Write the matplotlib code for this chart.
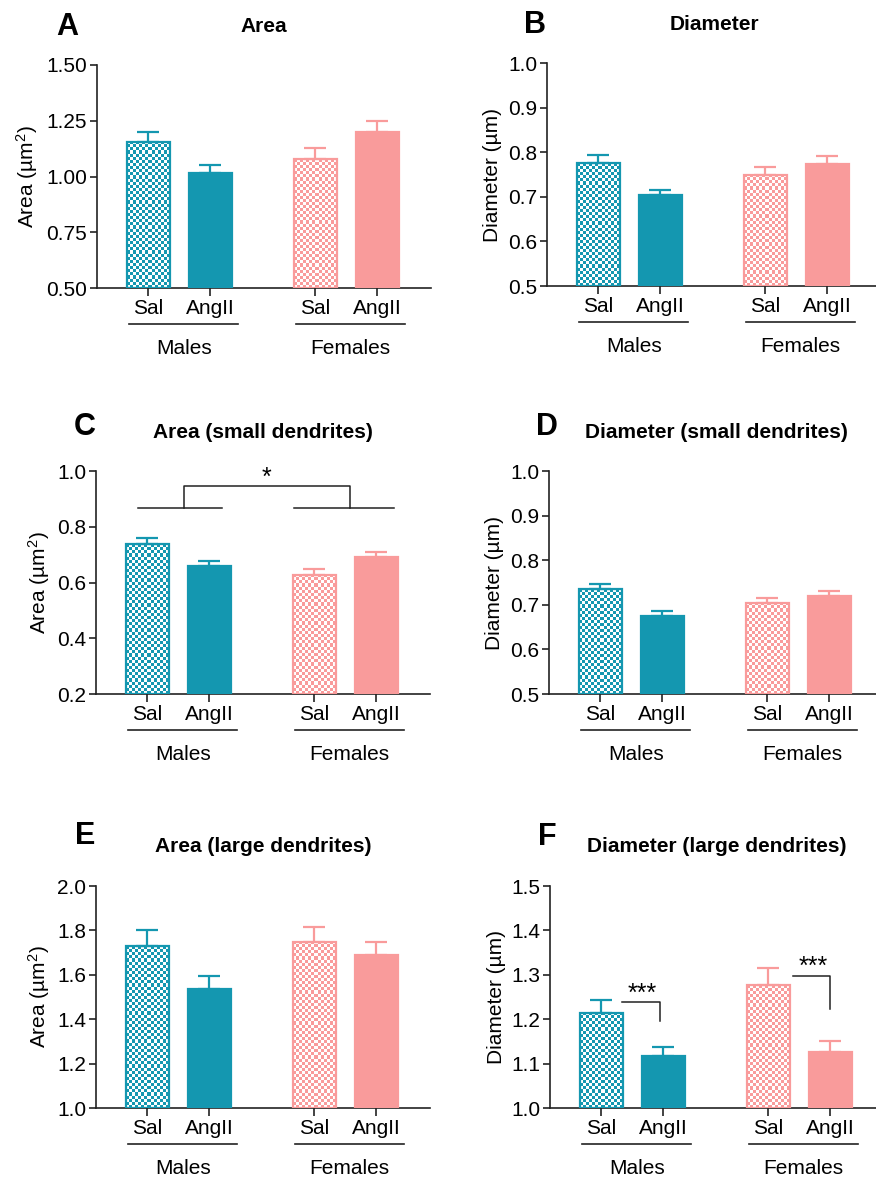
import numpy as np
import matplotlib
matplotlib.use('Agg')
import matplotlib.pyplot as plt
from matplotlib.colors import ListedColormap
from matplotlib.transforms import blended_transform_factory

plt.rcParams['font.family'] = ['Liberation Sans', 'DejaVu Sans']
plt.rcParams['mathtext.fontset'] = 'custom'
plt.rcParams['mathtext.rm'] = 'Liberation Sans'
plt.rcParams['mathtext.it'] = 'Liberation Sans'
plt.rcParams['mathtext.bf'] = 'Liberation Sans:bold'

# ---------------- data ----------------
categories = ['Sal', 'AngII', 'Sal', 'AngII']
groups = ['Males', 'Females']
letters = ['A', 'B', 'C', 'D', 'E', 'F']
titles = ['Area', 'Diameter', 'Area (small dendrites)', 'Diameter (small dendrites)',
          'Area (large dendrites)', 'Diameter (large dendrites)']
ylabels = ['Area (µm$^{2}$)', 'Diameter (µm)', 'Area (µm$^{2}$)', 'Diameter (µm)',
           'Area (µm$^{2}$)', 'Diameter (µm)']

area_mean = [1.156, 1.014, 1.077, 1.201]
area_sem = [0.045, 0.038, 0.049, 0.049]
diam_mean = [0.775, 0.704, 0.749, 0.774]
diam_sem = [0.018, 0.012, 0.017, 0.017]
area_small_mean = [0.737, 0.659, 0.627, 0.692]
area_small_sem = [0.022, 0.019, 0.020, 0.019]
diam_small_mean = [0.735, 0.675, 0.705, 0.720]
diam_small_sem = [0.012, 0.011, 0.010, 0.012]
area_large_mean = [1.728, 1.538, 1.748, 1.688]
area_large_sem = [0.075, 0.055, 0.067, 0.058]
diam_large_mean = [1.214, 1.116, 1.276, 1.127]
diam_large_sem = [0.029, 0.021, 0.040, 0.024]

yticks_A = [0.50, 0.75, 1.00, 1.25, 1.50]
yticks_B = [0.5, 0.6, 0.7, 0.8, 0.9, 1.0]
yticks_C = [0.2, 0.4, 0.6, 0.8, 1.0]
yticks_D = [0.5, 0.6, 0.7, 0.8, 0.9, 1.0]
yticks_E = [1.0, 1.2, 1.4, 1.6, 1.8, 2.0]
yticks_F = [1.0, 1.1, 1.2, 1.3, 1.4, 1.5]
ytick_fmt = ['%.2f', '%.1f', '%.1f', '%.1f', '%.1f', '%.1f']

means = [area_mean, diam_mean, area_small_mean, diam_small_mean, area_large_mean, diam_large_mean]
sems = [area_sem, diam_sem, area_small_sem, diam_small_sem, area_large_sem, diam_large_sem]
yticks = [yticks_A, yticks_B, yticks_C, yticks_D, yticks_E, yticks_F]

# significance annotations
sig_C_label = '*'
sig_F_labels = ['***', '***']

# ---------------- style ----------------
TEAL = '#1497b0'
PINK = '#f99b9b'
bar_colors = [TEAL, TEAL, PINK, PINK]
checkered = [True, False, True, False]

W, H = 876, 1180
fig = plt.figure(figsize=(W / 100, H / 100), dpi=100)

# axes placement in pixels: left, top, bottom
layout = [(97, 65, 288), (547, 63, 286), (96, 471, 694),
          (549, 471, 694), (96, 886, 1108), (550, 886, 1108)]
AX_W = 334
xpos = np.array([0.0, 1.0, 2.69, 3.69])
PX_PER_UNIT = 62.0
XLEFT = -0.83
BAR_W = 0.69
FS = 15


def fx(px):
    return px / W


def fy(py):
    return 1 - py / H


def checker(ax, patch, color, cell_px=3.1):
    x0, y0 = patch.get_x(), patch.get_y()
    w, h = patch.get_width(), patch.get_height()
    p0 = ax.transData.transform((x0, y0))
    p1 = ax.transData.transform((x0 + w, y0 + h))
    ncol = max(1, int(round(abs(p1[0] - p0[0]) / cell_px)))
    nrow = max(1, int(round(abs(p1[1] - p0[1]) / cell_px)))
    arr = np.add.outer(np.arange(nrow), np.arange(ncol)) % 2
    im = ax.imshow(arr, extent=[x0, x0 + w, y0, y0 + h], origin='lower',
                   cmap=ListedColormap(['white', color]), vmin=0, vmax=1,
                   interpolation='nearest', aspect='auto', zorder=2)
    im.set_clip_path(patch)


axes = []
for i in range(6):
    left, top, bottom = layout[i]
    ax = fig.add_axes([fx(left), fy(bottom), AX_W / W, (bottom - top) / H])
    axes.append(ax)
    yt = yticks[i]
    ymin, ymax = yt[0], yt[-1]
    ax.set_xlim(XLEFT, XLEFT + AX_W / PX_PER_UNIT)
    ax.set_ylim(ymin, ymax)

    for spine in ['top', 'right']:
        ax.spines[spine].set_visible(False)
    for spine in ['left', 'bottom']:
        ax.spines[spine].set_linewidth(1.2)
        ax.spines[spine].set_color('#222222')

    m = np.array(means[i])
    s = np.array(sems[i])
    for j in range(4):
        col = bar_colors[j]
        if checkered[j]:
            bars = ax.bar(xpos[j], m[j] - ymin, bottom=ymin, width=BAR_W,
                          facecolor='none', edgecolor=col, linewidth=1.6, zorder=3)
            checker(ax, bars[0], col)
        else:
            ax.bar(xpos[j], m[j] - ymin, bottom=ymin, width=BAR_W,
                   facecolor=col, edgecolor=col, linewidth=1.6, zorder=3)
        ax.errorbar(xpos[j], m[j], yerr=[[0], [s[j]]], fmt='none', ecolor=col,
                    elinewidth=1.6, capsize=8, capthick=1.6, zorder=2.5)

    ax.set_ylim(ymin, ymax)
    ax.set_xlim(XLEFT, XLEFT + AX_W / PX_PER_UNIT)
    ax.set_yticks(yt)
    ax.set_yticklabels([ytick_fmt[i] % v for v in yt])
    ax.set_xticks(xpos)
    ax.set_xticklabels(categories)
    ax.tick_params(axis='both', labelsize=FS, width=1.2, length=5, color='#222222')
    ax.tick_params(axis='y', pad=2)
    ax.tick_params(axis='x', pad=2, length=6)

    # group underline + labels
    trans = blended_transform_factory(ax.transData, ax.transAxes)
    ah = bottom - top
    for g, (a, b) in enumerate([(xpos[0], xpos[1]), (xpos[2], xpos[3])]):
        c = (a + b) / 2 + 0.07
        ax.plot([c - 0.88, c + 0.88], [-36 / ah, -36 / ah], transform=trans,
                color='#222222', lw=1.2, clip_on=False)
        ax.text(c, -66 / ah, groups[g], transform=trans, ha='center',
                va='baseline', fontsize=FS)

    # title, letter, ylabel
    fig.text(fx(left + 167), fy(top - 39), titles[i], ha='center', va='center',
             fontsize=FS, fontweight='bold')
    letter_x = [67, 535, 85, 547, 85, 547][i]
    letter_y = [27, 25, 427, 427, 836, 837][i]
    fig.text(fx(letter_x), fy(letter_y), letters[i], ha='center', va='center',
             fontsize=22, fontweight='bold')
    ylab_right = [40, 502, 52, 504, 52, 506][i]
    fig.text(fx(ylab_right), fy((top + bottom) / 2), ylabels[i], rotation=90,
             ha='right', va='center', fontsize=FS)

# ---------- significance: panel C ----------
axC = axes[2]
grp_y, top_y = 0.866, 0.946
grp_spans = [(xpos[0] - 0.16, xpos[1] + 0.21), (xpos[2] - 0.32, xpos[3] + 0.28)]
for a, b in grp_spans:
    axC.plot([a, b], [grp_y, grp_y], color='#222222', lw=1.1, clip_on=False, zorder=4)
ca = (grp_spans[0][0] + grp_spans[0][1]) / 2 + 0.06
cb = (grp_spans[1][0] + grp_spans[1][1]) / 2 + 0.09
axC.plot([ca, ca, cb, cb], [grp_y, top_y, top_y, grp_y], color='#222222', lw=1.1,
         clip_on=False, zorder=4)
axC.text((ca + cb) / 2, top_y + 0.006, sig_C_label, ha='center', va='baseline',
         fontsize=18, clip_on=False)

# ---------- significance: panel F ----------
axF = axes[5]
f_brackets = [(xpos[0] + 0.33, xpos[1] - 0.05, 1.238, 1.197),
              (xpos[2] + 0.40, xpos[3], 1.298, 1.222)]
for (a, b, yh, yl), lab in zip(f_brackets, sig_F_labels):
    axF.plot([a, b, b], [yh, yh, yl], color='#222222', lw=1.1, zorder=4)
    axF.text((a + b) / 2 + 0.02, yh + 0.004, lab, ha='center', va='baseline', fontsize=18)

fig.savefig('out.png', dpi=100)
